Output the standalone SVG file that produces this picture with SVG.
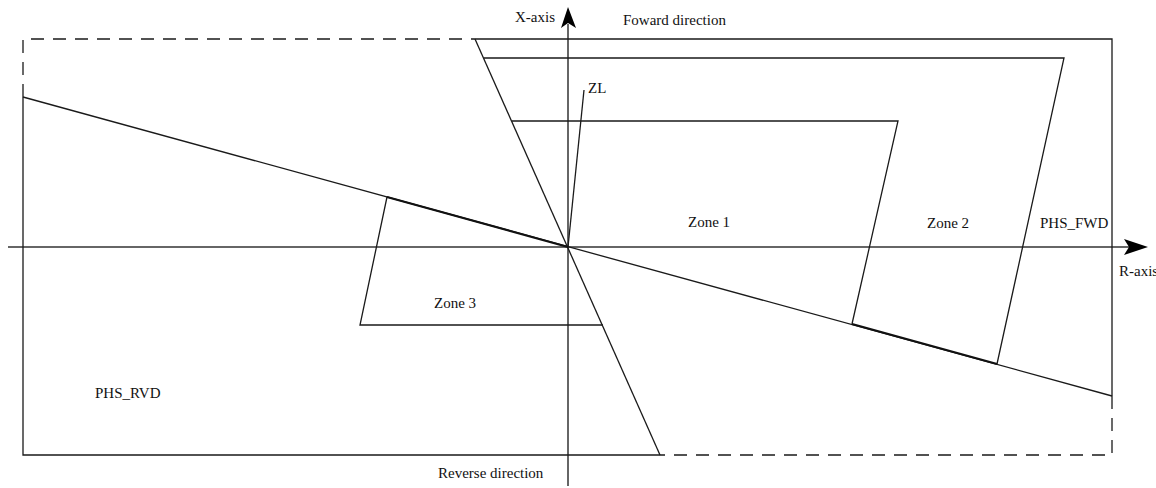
<svg xmlns="http://www.w3.org/2000/svg" width="1156" height="488" viewBox="0 0 1156 488">
<style>
.ln{fill:none;stroke:#1a1a1a;stroke-width:1.3}
.dash{fill:none;stroke:#1a1a1a;stroke-width:1.3;stroke-dasharray:13 9}
.bold{fill:none;stroke:#111;stroke-width:2.2}
.ax{fill:none;stroke:#333;stroke-width:1.5}
.t{font-family:"Liberation Serif","Times New Roman",serif;font-size:15px;fill:#111}
</style>
<rect width="1156" height="488" fill="#fff"/>
<g id="axes">
<line class="ax" x1="568" y1="24" x2="568" y2="486"/>
<line class="ax" x1="8" y1="247" x2="1130" y2="247"/>
<path d="M568,7 L576,28 L568,23 L561,28 Z" fill="#000"/>
<path d="M1148,247 L1124,255 L1129,247 L1124,239 Z" fill="#000"/>
</g>
<g id="phs-boundary">
<polyline class="dash" points="23,97 23,39 475,39"/>
<polyline class="ln" points="475,39 1112,39 1112,396"/>
<polyline class="dash" points="1112,396 1112,455 660,455"/>
<polyline class="ln" points="23,97 23,455 660,455"/>
<line class="ln" x1="475" y1="39" x2="660" y2="455"/>
<line class="ln" x1="23" y1="97" x2="1112" y2="396"/>
</g>
<g id="zl">
<line class="ln" x1="568" y1="247" x2="584" y2="90"/>
</g>
<g id="zone1">
<polyline class="ln" points="512,121 898,121 852,324"/>
</g>
<g id="zone2">
<polyline class="ln" points="484,58 1064,58 997,364"/>
<line class="bold" x1="852" y1="324" x2="997" y2="364"/>
</g>
<g id="zone3">
<polyline class="ln" points="387,197 360,325 603,325"/>
<line class="bold" x1="387" y1="197" x2="568" y2="247"/>
</g>
<g id="labels">
<text class="t" x="515" y="22">X-axis</text>
<text class="t" x="623" y="25">Foward direction</text>
<text class="t" x="588" y="93">ZL</text>
<text class="t" x="688" y="227">Zone 1</text>
<text class="t" x="927" y="228">Zone 2</text>
<text class="t" x="1040" y="228">PHS_FWD</text>
<text class="t" x="1119" y="276">R-axis</text>
<text class="t" x="434" y="308">Zone 3</text>
<text class="t" x="95" y="398">PHS_RVD</text>
<text class="t" x="438" y="478">Reverse direction</text>
</g>
</svg>
